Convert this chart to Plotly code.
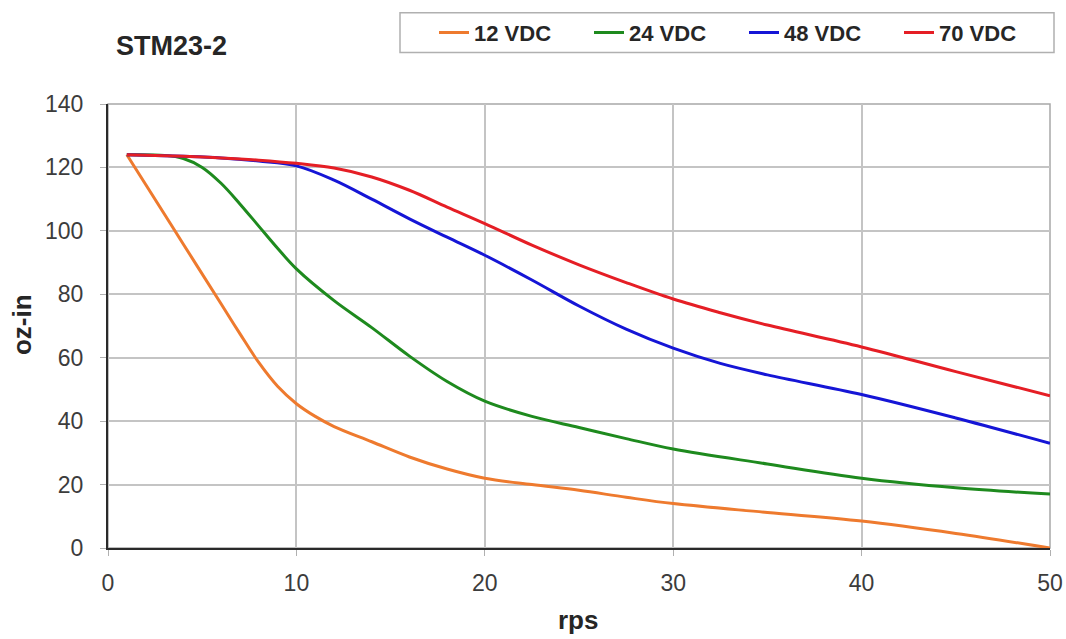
import plotly.graph_objects as go

rps12 = [1, 2, 4, 6, 7, 8, 9, 10, 11, 12, 14, 16, 18, 20, 22.5, 25, 27.5, 30, 35, 40, 45, 50]
v12 = [124, 114.6, 95.8, 77, 67.6, 58.5, 51, 45.5, 41.5, 38.3, 33.5, 28.7, 24.9, 22, 20, 18.2, 16, 14, 11.2, 8.5, 4.6, 0]

rps24 = [1, 3, 4, 5, 6, 7, 8, 9, 10, 12, 14, 16, 18, 20, 22.5, 25, 27.5, 30, 35, 40, 45, 50]
v24 = [124, 123.8, 122.8, 120, 115, 108.5, 101.5, 94.5, 88, 78, 69.5, 60.5, 52.5, 46.3, 41.5, 38, 34.5, 31.2, 26.5, 22, 19, 17]

rps48 = [1, 4, 6, 8, 10, 12, 14, 16, 18, 20, 22.5, 25, 27.5, 30, 32.5, 35, 40, 45, 50]
v48 = [124, 123.5, 123, 122, 120.5, 116, 110, 103.8, 98, 92.3, 84.5, 76.3, 69, 63, 58.2, 54.6, 48.4, 41, 33]

rps70 = [1, 4, 6, 8, 10, 12, 14, 16, 18, 20, 22.5, 25, 27.5, 30, 32.5, 35, 40, 45, 50]
v70 = [124, 123.5, 123, 122.3, 121.3, 119.8, 117, 112.8, 107.5, 102.3, 95.5, 89.3, 83.7, 78.5, 74.2, 70.3, 63.4, 55.6, 48]

series = [
    ("12 VDC", rps12, v12, "#EE7A2E"),
    ("24 VDC", rps24, v24, "#1E8A1E"),
    ("48 VDC", rps48, v48, "#1515D6"),
    ("70 VDC", rps70, v70, "#E51E25"),
]

x_ticks = [0, 10, 20, 30, 40, 50]
y_ticks = [0, 20, 40, 60, 80, 100, 120, 140]

chart_title = "STM23-2"
x_title = "rps"
y_title = "oz-in"

# plot area in pixels
L, R, T, B = 108, 1050, 100, 548
W, H = R - L, B - T


def px_x(p):
    return (p - L) / W


def px_y(p):
    return (B - p) / H


fig = go.Figure()
for name, xs, vals, col in series:
    fig.add_trace(go.Scatter(
        x=xs, y=vals, name=name, mode="lines",
        line=dict(color=col, width=3, shape="spline", smoothing=1.0),
    ))

font_family = "Liberation Sans, Arial, sans-serif"

fig.update_layout(
    width=1066, height=639,
    margin=dict(l=L, r=1066 - R, t=T, b=639 - B),
    paper_bgcolor="white", plot_bgcolor="white",
    font=dict(family=font_family, size=23, color="#3c3c3c"),
    showlegend=True,
    legend=dict(
        orientation="h", x=px_x(434), y=px_y(28),
        xanchor="left", yanchor="middle",
        borderwidth=0, bgcolor="rgba(0,0,0,0)",
        font=dict(size=22, color="#262626", family=font_family, weight="bold"),
        entrywidth=110, entrywidthmode="pixels",
    ),
    annotations=[
        dict(text="<b>" + chart_title + "</b>", x=px_x(114), y=px_y(41),
             xref="paper", yref="paper", xanchor="left", yanchor="middle",
             showarrow=False, font=dict(size=27, color="#262626")),
        dict(text="<b>" + x_title + "</b>", x=px_x(578), y=px_y(621),
             xref="paper", yref="paper", xanchor="center", yanchor="middle",
             showarrow=False, font=dict(size=26, color="#262626")),
        dict(text="<b>" + y_title + "</b>", x=px_x(22), y=px_y(323),
             xref="paper", yref="paper", xanchor="center", yanchor="middle",
             textangle=-90, showarrow=False, font=dict(size=26, color="#262626")),
    ],
    xaxis=dict(
        range=[0, 50], tickvals=x_ticks, ticktext=[str(t) for t in x_ticks],
        showgrid=True, gridcolor="#c4c4c4", gridwidth=1.5,
        showline=True, linecolor="#2a2a2a", linewidth=2,
        ticks="outside", ticklen=6, tickcolor="#b0b0b0",
        ticklabelstandoff=7,
        automargin=False, zeroline=False, fixedrange=True,
    ),
    yaxis=dict(
        range=[0, 140], tickvals=y_ticks, ticktext=[str(t) for t in y_ticks],
        showgrid=True, gridcolor="#c4c4c4", gridwidth=1.5,
        showline=True, linecolor="#2a2a2a", linewidth=2,
        ticks="outside", ticklen=6, tickcolor="#b0b0b0",
        ticklabelstandoff=12,
        automargin=False, zeroline=False, fixedrange=True,
    ),
    shapes=[
        dict(type="rect", xref="x domain", yref="y domain", x0=0, x1=1, y0=0, y1=1,
             line=dict(color="#a8a8a8", width=1.5), layer="below"),
        dict(type="rect", xref="paper", yref="paper",
             x0=px_x(400), x1=px_x(1054), y0=px_y(48), y1=px_y(8),
             line=dict(color="#b0b0b0", width=1.5), fillcolor="rgba(0,0,0,0)",
             layer="below"),
    ],
)

fig.write_html(
    "out.html",
    config={"displayModeBar": False},
    post_script="document.body.style.margin='0';document.body.style.overflow='hidden';",
)
